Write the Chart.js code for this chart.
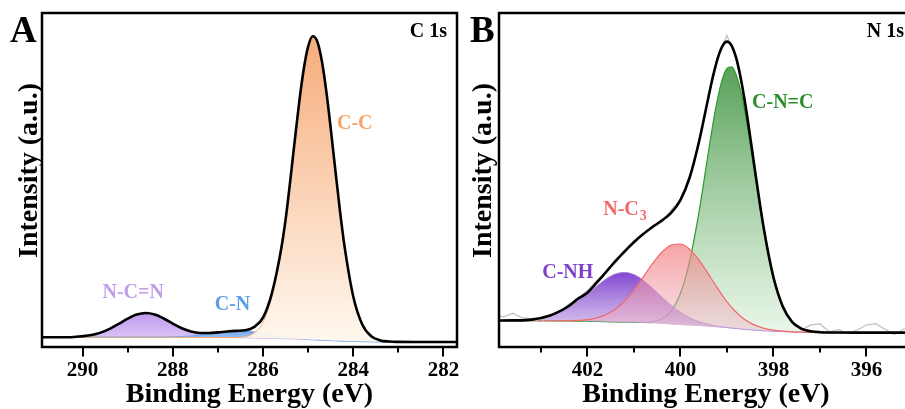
<!DOCTYPE html>
<html>
<head>
<meta charset="utf-8">
<script src="https://cdn.jsdelivr.net/npm/chart.js@4.4.1/dist/chart.umd.min.js"></script>
<style>
  html, body { margin: 0; padding: 0; background: #fff; overflow: hidden; }
  #wrap { position: relative; width: 905px; height: 409px; overflow: hidden; background: #fff; }
  canvas { position: absolute; top: 0; }
  #chartC { left: 0; }
  #chartN { left: 460px; }
</style>
</head>
<body>
<div id="wrap">
  <canvas id="chartC" width="460" height="409"></canvas>
  <canvas id="chartN" width="460" height="409"></canvas>
</div>
<script>
// ---------- C 1s spectrum (binding energy in eV, intensity in a.u.) ----------
const energyC = [291.0, 290.6, 290.2, 289.8, 289.6, 289.4, 289.2, 289.0, 288.8, 288.6, 288.4, 288.2, 288.0, 287.8, 287.6, 287.4, 287.2, 287.0, 286.8, 286.6, 286.4, 286.2, 286.0, 285.8, 285.6, 285.5, 285.4, 285.3, 285.2, 285.1, 285.0, 284.9, 284.8, 284.7, 284.6, 284.5, 284.4, 284.3, 284.2, 284.0, 283.8, 283.6, 283.4, 283.2, 283.0, 282.6, 282.2, 281.6];
const backgroundC = [2.9, 2.9, 2.9, 2.9, 2.9, 2.9, 2.9, 2.9, 2.9, 2.9, 2.9, 2.9, 2.9, 2.9, 2.9, 2.88, 2.87, 2.85, 2.83, 2.8, 2.75, 2.7, 2.65, 2.6, 2.52, 2.48, 2.45, 2.4, 2.35, 2.3, 2.25, 2.2, 2.15, 2.08, 2.0, 1.95, 1.9, 1.85, 1.8, 1.72, 1.66, 1.6, 1.57, 1.55, 1.52, 1.5, 1.5, 1.5];
const ncnC = [2.9, 2.91, 3.01, 3.58, 4.30, 5.43, 6.93, 8.50, 9.73, 10.2, 9.73, 8.50, 6.93, 5.43, 4.30, 3.56, 3.16, 2.96, 2.86, 2.81, 2.75, 2.7, 2.65, 2.6, 2.52, 2.48, 2.45, 2.4, 2.35, 2.3, 2.25, 2.2, 2.15, 2.08, 2.0, 1.95, 1.9, 1.85, 1.8, 1.72, 1.66, 1.6, 1.57, 1.55, 1.52, 1.5, 1.5, 1.5];
const cnC = [2.9, 2.9, 2.9, 2.9, 2.9, 2.9, 2.9, 2.9, 2.9, 2.9, 2.91, 2.94, 2.99, 3.09, 3.27, 3.53, 3.88, 4.26, 4.60, 4.77, 4.72, 4.47, 4.06, 3.61, 3.17, 2.98, 2.82, 2.67, 2.54, 2.43, 2.34, 2.26, 2.19, 2.1, 2.01, 1.96, 1.9, 1.85, 1.8, 1.72, 1.66, 1.6, 1.57, 1.55, 1.52, 1.5, 1.5, 1.5];
const ccC = [2.9, 2.9, 2.9, 2.9, 2.9, 2.9, 2.9, 2.9, 2.9, 2.9, 2.9, 2.9, 2.9, 2.9, 2.9, 2.88, 2.87, 2.85, 2.84, 2.86, 3.05, 4.2, 7.4, 15.3, 28.5, 37.62, 49.02, 61.15, 72.86, 82.88, 89.87, 92.99, 91.53, 85.90, 76.82, 65.52, 53.29, 41.42, 30.79, 15.14, 6.76, 3.19, 1.98, 1.64, 1.54, 1.5, 1.5, 1.5];
const envelopeC = [2.9, 2.91, 3.01, 3.58, 4.30, 5.43, 6.93, 8.50, 9.73, 10.2, 9.74, 8.54, 7.02, 5.62, 4.67, 4.21, 4.17, 4.37, 4.64, 4.84, 5.02, 5.97, 8.8, 16.3, 29.2, 38.12, 49.39, 61.42, 73.05, 83.01, 89.96, 93.05, 91.57, 85.92, 76.83, 65.53, 53.3, 41.42, 30.79, 15.14, 6.76, 3.19, 1.98, 1.64, 1.54, 1.5, 1.5, 1.5];
const majorTicksC = [290, 288, 286, 284, 282];
const minorTicksC = [289, 287, 285, 283];

// ---------- N 1s spectrum ----------
const energyN = [404.0, 403.6, 403.2, 402.8, 402.6, 402.4, 402.2, 402.0, 401.8, 401.6, 401.4, 401.2, 401.0, 400.8, 400.6, 400.4, 400.2, 400.0, 399.8, 399.6, 399.4, 399.3, 399.2, 399.1, 399.0, 398.9, 398.8, 398.7, 398.6, 398.5, 398.4, 398.2, 398.0, 397.8, 397.6, 397.4, 397.2, 397.0, 396.6, 396.2, 395.8, 394.9];
const backgroundN = [7.9, 7.9, 7.88, 7.85, 7.82, 7.8, 7.75, 7.7, 7.65, 7.58, 7.5, 7.42, 7.33, 7.22, 7.08, 6.93, 6.77, 6.6, 6.43, 6.27, 6.1, 6.0, 5.9, 5.8, 5.7, 5.58, 5.47, 5.35, 5.24, 5.13, 5.03, 4.86, 4.72, 4.6, 4.5, 4.43, 4.38, 4.35, 4.32, 4.3, 4.3, 4.3];
const cnhN = [7.91, 7.96, 8.19, 9.45, 10.62, 12.2, 14.25, 15.74, 18.18, 20.35, 21.84, 22.32, 21.67, 19.99, 17.61, 14.97, 12.45, 10.32, 8.68, 7.53, 6.75, 6.46, 6.21, 6.01, 5.84, 5.67, 5.53, 5.39, 5.26, 5.14, 5.04, 4.86, 4.72, 4.6, 4.5, 4.43, 4.38, 4.35, 4.32, 4.3, 4.3, 4.3];
const nc3N = [7.9, 7.9, 7.88, 7.86, 7.85, 7.89, 7.97, 8.2, 8.72, 9.67, 11.28, 13.72, 17.0, 20.91, 24.93, 28.37, 30.52, 30.84, 29.23, 26.03, 21.89, 19.69, 17.53, 15.47, 13.59, 11.88, 10.41, 9.13, 8.09, 7.22, 6.54, 5.6, 5.05, 4.74, 4.55, 4.45, 4.39, 4.35, 4.32, 4.3, 4.3, 4.3];
const cncN = [7.9, 7.9, 7.88, 7.85, 7.82, 7.8, 7.75, 7.7, 7.65, 7.58, 7.5, 7.43, 7.36, 7.34, 7.53, 8.37, 10.74, 16.04, 25.77, 40.45, 58.21, 66.87, 74.41, 80.12, 83.39, 83.85, 81.46, 76.44, 69.34, 60.83, 51.67, 34.13, 20.56, 11.99, 7.48, 5.46, 4.69, 4.43, 4.32, 4.3, 4.3, 4.3];
const envelopeN = [7.91, 7.96, 8.20, 9.46, 10.65, 12.29, 14.47, 16.24, 19.25, 22.44, 25.62, 28.63, 31.37, 33.80, 35.91, 37.85, 40.17, 44.00, 50.82, 61.47, 74.65, 81.02, 86.35, 90.00, 91.42, 90.24, 86.46, 80.26, 72.21, 62.93, 53.19, 34.87, 20.89, 12.13, 7.53, 5.48, 4.70, 4.43, 4.32, 4.30, 4.30, 4.30];
const energyRawN = [404.0, 403.8, 403.6, 403.4, 403.2, 403.0, 402.8, 402.6, 402.4, 402.2, 402.0, 401.8, 401.6, 401.4, 401.2, 401.0, 400.8, 400.6, 400.4, 400.2, 400.0, 399.8, 399.6, 399.4, 399.2, 399.0, 398.8, 398.6, 398.4, 398.2, 398.0, 397.8, 397.6, 397.4, 397.2, 397.0, 396.8, 396.6, 396.4, 396.2, 396.0, 395.8, 395.6, 395.4, 395.2, 395.0];
const rawN = [9.6, 9.0, 10.1, 8.7, 8.4, 7.5, 9.3, 10.6, 12.8, 14.6, 16.9, 19.9, 22.3, 26.1, 28.1, 31.8, 33.5, 36.4, 37.3, 41.0, 44.3, 50.4, 62.0, 74.4, 86.8, 93.3, 86.2, 72.6, 52.9, 35.2, 20.6, 12.6, 7.2, 5.0, 6.6, 6.9, 4.6, 5.2, 4.1, 5.1, 6.6, 7.0, 5.3, 3.7, 5.4, 5.6];
const majorTicksN = [402, 400, 398, 396];
const minorTicksN = [403, 401, 399, 397];

const SERIF = "'Liberation Serif', 'Times New Roman', serif";
Chart.defaults.font.family = SERIF;
Chart.defaults.font.weight = 'bold';
Chart.defaults.color = '#000';

function pts(xs, ys) { return xs.map((x, i) => ({ x, y: ys[i] })); }

// vertical gradient running from a component's peak down to the plot floor
function vGrad(top, bottom, series) {
  const peak = Math.max(...series);
  return (c) => {
    const chart = c.chart, area = chart.chartArea;
    if (!area) return bottom;
    const y0 = chart.scales.y.getPixelForValue(peak);
    const g = chart.ctx.createLinearGradient(0, y0, 0, area.bottom);
    g.addColorStop(0, top);
    g.addColorStop(1, bottom);
    return g;
  };
}

// frame, outward ticks, peak names, core-level tag, panel letter and rotated y title
const decor = {
  id: 'decor',
  afterDatasetsDraw(chart, args, o) {
    const { ctx, chartArea: a, scales: { x, y } } = chart;
    ctx.save();
    ctx.strokeStyle = '#000';
    ctx.lineWidth = 2;
    ctx.beginPath();
    for (const v of o.major) {
      const px = Math.round(x.getPixelForValue(v));
      ctx.moveTo(px, a.bottom); ctx.lineTo(px, a.bottom + 9.5);
    }
    for (const v of o.minor) {
      const px = Math.round(x.getPixelForValue(v));
      ctx.moveTo(px, a.bottom); ctx.lineTo(px, a.bottom + 5.5);
    }
    ctx.stroke();
    ctx.lineWidth = 2.5;
    ctx.strokeRect(a.left, a.top, a.right - a.left, a.bottom - a.top);

    ctx.textBaseline = 'alphabetic';
    ctx.textAlign = 'left';
    for (const l of o.labels) {
      const px = x.getPixelForValue(l.e), py = y.getPixelForValue(l.i);
      ctx.fillStyle = l.color;
      ctx.font = `bold 20px ${SERIF}`;
      ctx.fillText(l.text, px, py);
      if (l.sub) {
        const w = ctx.measureText(l.text).width;
        ctx.font = `bold 14px ${SERIF}`;
        ctx.fillText(l.sub, px + w + 1, py + 5);
      }
    }
    ctx.fillStyle = '#000';
    ctx.font = `bold 20px ${SERIF}`;
    ctx.textAlign = 'right';
    ctx.fillText(o.core, a.right - o.coreInset, a.top + 24);
    ctx.textAlign = 'left';
    ctx.font = `bold 37px ${SERIF}`;
    ctx.fillText(o.letter, 10, 42);
    ctx.font = `bold 28px ${SERIF}`;
    ctx.textAlign = 'center';
    ctx.translate(o.yTitleX, (a.top + a.bottom) / 2 - 9.5);
    ctx.rotate(-Math.PI / 2);
    ctx.fillText(o.yTitle, 0, 0);
    ctx.restore();
  }
};

function buildOptions(cfg) {
  return {
    responsive: false,
    animation: false,
    devicePixelRatio: 1,
    layout: { padding: { left: cfg.padLeft, top: 13, right: cfg.padRight, bottom: 0 } },
    elements: { point: { radius: 0 }, line: { cubicInterpolationMode: 'monotone' } },
    plugins: {
      legend: { display: false },
      tooltip: { enabled: false },
      decor: Object.assign({ major: cfg.major, minor: cfg.minor }, cfg.decor)
    },
    scales: {
      x: {
        type: 'linear', position: 'bottom', reverse: true, min: cfg.min, max: cfg.max,
        afterBuildTicks: (s) => { s.ticks = cfg.major.map(v => ({ value: v })); },
        afterFit: (s) => { s.height = 62; s.paddingLeft = 0; s.paddingRight = 0; },
        ticks: { font: { size: 21, weight: 'bold' }, color: '#000', padding: 3, maxRotation: 0, autoSkip: false },
        grid: { display: false, drawTicks: true, tickLength: 8 },
        border: { display: false },
        title: { display: true, text: 'Binding Energy (eV)', color: '#000', padding: 0,
                 font: { size: 28, weight: 'bold', lineHeight: 1 } }
      },
      y: { display: false, min: 0, max: 100 }
    }
  };
}

// ---- C 1s ----
new Chart(document.getElementById('chartC'), {
  type: 'line',
  plugins: [decor],
  data: {
    datasets: [
      { data: pts(energyC, backgroundC), borderWidth: 0, borderColor: 'rgba(0,0,0,0)', fill: false, order: 10 },
      { data: pts(energyC, ncnC), borderColor: 'rgba(185,150,232,0.9)', borderWidth: 1, fill: 0, order: 5,
        backgroundColor: vGrad('rgba(188,146,236,0.95)', 'rgba(222,206,246,0.9)', ncnC) },
      { data: pts(energyC, cnC), borderColor: '#6FA8EC', borderWidth: 1.4, fill: 0, order: 4,
        backgroundColor: vGrad('rgba(110,165,236,0.95)', 'rgba(196,218,248,0.9)', cnC) },
      { data: pts(energyC, ccC), borderColor: '#F4A872', borderWidth: 1, fill: 0, order: 3,
        backgroundColor: vGrad('rgba(246,168,116,0.95)', 'rgba(255,249,240,0.95)', ccC) },
      { data: pts(energyC, envelopeC), borderColor: '#000', borderWidth: 2.6, fill: false, order: 0 }
    ]
  },
  options: buildOptions({
    padLeft: 42, padRight: 3, min: 281.7, max: 290.9, major: majorTicksC, minor: minorTicksC,
    decor: {
      letter: 'A', core: 'C 1s', coreInset: 10, yTitle: 'Intensity (a.u.)', yTitleX: 37,
      labels: [
        { text: 'N-C=N', color: '#C29DE8', e: 289.56, i: 14.7 },
        { text: 'C-N', color: '#5C9CE5', e: 287.07, i: 11.1 },
        { text: 'C-C', color: '#F4A466', e: 284.36, i: 65.3 }
      ]
    }
  })
});

// ---- N 1s ----
new Chart(document.getElementById('chartN'), {
  type: 'line',
  plugins: [decor],
  data: {
    datasets: [
      { data: pts(energyN, backgroundN), borderWidth: 0, borderColor: 'rgba(0,0,0,0)', fill: false, order: 10 },
      { data: pts(energyN, cncN), borderColor: '#2E9A2E', borderWidth: 1.2, fill: 0, order: 6,
        backgroundColor: vGrad('rgba(70,150,70,0.9)', 'rgba(232,248,232,0.7)', cncN) },
      { data: pts(energyN, cnhN), borderColor: 'rgba(160,120,215,0.9)', borderWidth: 1, fill: 0, order: 5,
        backgroundColor: vGrad('rgba(118,55,205,0.92)', 'rgba(228,205,238,0.6)', cnhN) },
      { data: pts(energyN, nc3N), borderColor: '#EE6A6A', borderWidth: 1.2, fill: 0, order: 4,
        backgroundColor: vGrad('rgba(242,128,128,0.72)', 'rgba(240,190,215,0.35)', nc3N) },
      { data: pts(energyRawN, rawN), borderColor: '#BDBDBD', borderWidth: 1.2, fill: false, order: 1,
        cubicInterpolationMode: 'default', tension: 0 },
      { data: pts(energyN, envelopeN), borderColor: '#000', borderWidth: 2.6, fill: false, order: 0 }
    ]
  },
  options: buildOptions({
    padLeft: 39, padRight: 7, min: 395.0, max: 403.9, major: majorTicksN, minor: minorTicksN,
    decor: {
      letter: 'B', core: 'N 1s', coreInset: 9, yTitle: 'Intensity (a.u.)', yTitleX: 31,
      labels: [
        { text: 'C-NH', color: '#7B3FCC', e: 402.97, i: 20.6 },
        { text: 'N-C', sub: '3', color: '#F06A6A', e: 401.66, i: 39.5 },
        { text: 'C-N=C', color: '#2A8F2A', e: 398.46, i: 71.6 }
      ]
    }
  })
});
</script>
</body>
</html>
